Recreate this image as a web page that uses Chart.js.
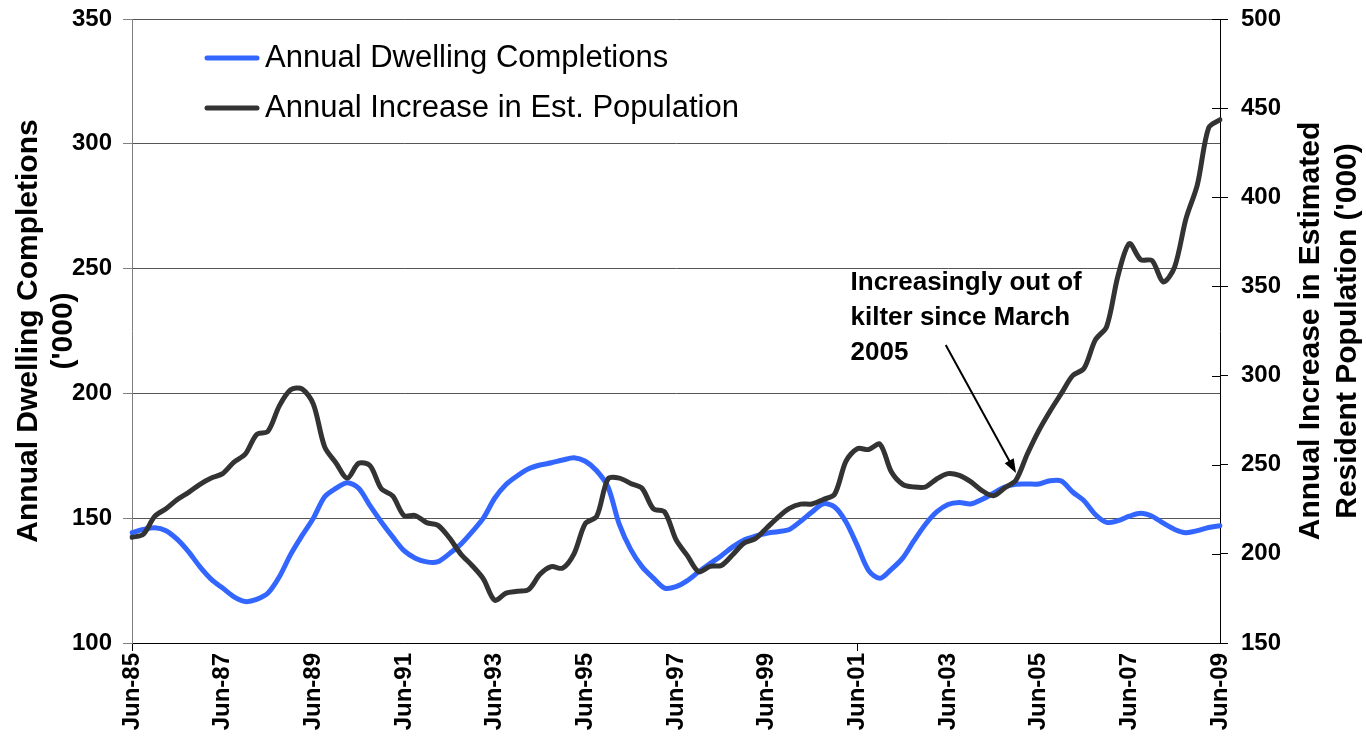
<!DOCTYPE html>
<html>
<head>
<meta charset="utf-8">
<script src="https://cdn.jsdelivr.net/npm/chart.js@4.4.1/dist/chart.umd.min.js"></script>
<style>
  html, body { margin: 0; padding: 0; background: #fff; }
  canvas { display: block; }
</style>
</head>
<body>
<canvas id="chart" width="1366" height="743"></canvas>
<script>
// Quarterly series, Jun-85 .. Jun-09
const quarterNames = ['Jun', 'Sep', 'Dec', 'Mar'];
const firstYear = 1985;
const quarterCount = 97;

// Annual dwelling completions ('000), left axis
const dwellingCompletions = [
  144.2, 145.5, 146.2, 145.0, 141.5, 136.5, 130.5, 125.5,
  122.0, 118.5, 116.6, 117.5, 120.0, 126.5, 135.5, 143.0,
  150.0, 158.6, 162.0, 164.2, 162.0, 155.0, 148.5, 142.5,
  137.0, 134.0, 132.5, 132.6, 135.8, 139.5, 144.5, 150.0,
  158.0, 163.5, 167.0, 169.8, 171.3, 172.2, 173.3, 174.2,
  172.8, 169.0, 162.5, 147.5, 137.5, 130.6, 126.0, 122.0,
  122.6, 125.0, 128.5, 131.8, 135.0, 138.5, 141.3, 142.8,
  144.0, 144.6, 145.5, 148.8, 152.5, 155.8, 154.5, 148.5,
  139.0, 129.0, 125.9, 129.5, 134.0, 141.0, 147.5, 152.5,
  155.5, 156.3, 155.7, 157.5, 160.0, 162.5, 163.6, 163.7,
  163.7, 165.0, 164.9, 160.5, 157.0, 151.5, 148.3, 149.0,
  150.8, 152.0, 150.8, 148.0, 145.5, 144.2, 145.0, 146.3,
  147.0
];

// Annual increase in estimated resident population ('000), right axis
const populationIncrease = [
  209.3, 211.0, 221.0, 225.3, 230.5, 234.5, 239.0, 242.5,
  245.0, 251.5, 256.0, 267.0, 268.8, 283.0, 292.0, 292.5,
  284.0, 260.0, 251.0, 242.5, 250.8, 249.5, 236.5, 232.5,
  221.5, 221.5, 217.5, 216.0, 209.0, 200.0, 193.5, 186.0,
  174.0, 178.0, 179.0, 180.0, 188.5, 192.8, 192.0, 200.0,
  217.0, 221.0, 242.0, 242.5, 239.5, 236.8, 225.3, 223.5,
  208.0, 199.0, 190.0, 193.0, 193.5, 199.5, 206.0, 208.5,
  214.5, 220.5, 225.5, 227.9, 228.0, 230.5, 233.5, 252.0,
  259.0, 258.5, 261.5, 246.0, 239.0, 237.5, 237.5, 242.0,
  245.0, 244.0, 240.5, 235.5, 232.6, 237.0, 241.4, 256.0,
  269.0, 280.0, 290.0, 300.0, 304.0, 320.0, 327.5, 356.0,
  374.0, 365.0, 364.5, 352.5, 361.0, 388.0, 407.0, 439.0,
  443.5
];

const seriesNames = ['Annual Dwelling Completions', 'Annual Increase in Est. Population'];
const seriesColors = ['#3366ff', '#333333'];

const leftTitle = ['Annual Dwelling Completions', "('000)"];
const rightTitle = ['Annual Increase in Estimated', "Resident Population ('000)"];

const noteLines = ['Increasingly out of', 'kilter since March', '2005'];
// note anchor and arrow, in (quarter index, left-axis value)
const noteAt = [63.4, 241.4];
const arrowFrom = [71.8, 219.4];
const arrowTo = [78.0, 168.1];

const labels = [];
for (let i = 0; i < quarterCount; i++) {
    const q = i % 4;
    const year = firstYear + Math.floor(i / 4) + (q === 3 ? 1 : 0);
    labels.push(quarterNames[q] + '-' + String(year).slice(2));
}

const FONT = '"Liberation Sans", Arial, Helvetica, sans-serif';
Chart.defaults.font.family = FONT;
Chart.defaults.color = '#000';

function drawVertical(ctx, lines, xs, cy) {
    lines.forEach((line, i) => {
        ctx.save();
        ctx.translate(xs[i], cy);
        ctx.rotate(-Math.PI / 2);
        ctx.fillText(line, 0, 0);
        ctx.restore();
    });
}

// fixed axis box sizes, so the plot area lands in the same place every time
function fixWidth(w) {
    return s => { s.width = w; s.paddingTop = 0; s.paddingBottom = 0; };
}

const decorations = {
    id: 'decorations',
    afterDraw(chart) {
        const { ctx, chartArea, scales } = chart;
        const x = scales.x, y = scales.y, y1 = scales.y1;
        ctx.save();

        // inner half of the right axis tick marks
        ctx.strokeStyle = '#000';
        ctx.lineWidth = 1;
        y1.ticks.forEach(t => {
            const py = Math.round(y1.getPixelForValue(t.value)) + 0.5;
            ctx.beginPath();
            ctx.moveTo(chartArea.right - 8, py);
            ctx.lineTo(chartArea.right, py);
            ctx.stroke();
        });

        // axis titles
        ctx.fillStyle = '#000';
        ctx.font = 'bold 30px ' + FONT;
        ctx.textAlign = 'center';
        ctx.textBaseline = 'middle';
        const midY = (chartArea.top + chartArea.bottom) / 2;
        drawVertical(ctx, leftTitle, [29, 64], midY);
        drawVertical(ctx, rightTitle, [1311, 1348], midY);

        // legend inside the plot
        ctx.font = '31px ' + FONT;
        ctx.textAlign = 'left';
        seriesNames.forEach((name, i) => {
            const ly = 58 + i * 50;
            ctx.strokeStyle = seriesColors[i];
            ctx.lineWidth = 5;
            ctx.lineCap = 'round';
            ctx.beginPath();
            ctx.moveTo(207, ly);
            ctx.lineTo(257, ly);
            ctx.stroke();
            ctx.fillStyle = '#000';
            ctx.fillText(name, 265, ly);
        });

        // note with arrow
        ctx.font = 'bold 26px ' + FONT;
        ctx.textBaseline = 'alphabetic';
        const nx = x.getPixelForValue(noteAt[0]);
        const ny = y.getPixelForValue(noteAt[1]);
        noteLines.forEach((line, i) => ctx.fillText(line, nx, ny + i * 35));

        const ax0 = x.getPixelForValue(arrowFrom[0]), ay0 = y.getPixelForValue(arrowFrom[1]);
        const ax1 = x.getPixelForValue(arrowTo[0]), ay1 = y.getPixelForValue(arrowTo[1]);
        const ang = Math.atan2(ay1 - ay0, ax1 - ax0);
        const head = 15;
        ctx.strokeStyle = '#000';
        ctx.lineWidth = 2;
        ctx.lineCap = 'butt';
        ctx.beginPath();
        ctx.moveTo(ax0, ay0);
        ctx.lineTo(ax1 - Math.cos(ang) * head * 0.8, ay1 - Math.sin(ang) * head * 0.8);
        ctx.stroke();
        ctx.fillStyle = '#000';
        ctx.beginPath();
        ctx.moveTo(ax1, ay1);
        ctx.lineTo(ax1 - head * Math.cos(ang - 0.35), ay1 - head * Math.sin(ang - 0.35));
        ctx.lineTo(ax1 - head * Math.cos(ang + 0.35), ay1 - head * Math.sin(ang + 0.35));
        ctx.closePath();
        ctx.fill();

        ctx.restore();
    }
};

new Chart(document.getElementById('chart').getContext('2d'), {
    type: 'line',
    data: {
        labels,
        datasets: [{
            label: seriesNames[0],
            data: dwellingCompletions,
            yAxisID: 'y',
            borderColor: seriesColors[0],
            borderWidth: 5,
            order: 1
        }, {
            label: seriesNames[1],
            data: populationIncrease,
            yAxisID: 'y1',
            borderColor: seriesColors[1],
            borderWidth: 5,
            order: 0
        }]
    },
    options: {
        responsive: false,
        animation: false,
        devicePixelRatio: 1,
        layout: { padding: { top: 19, right: 0, bottom: 0, left: 0 } },
        elements: {
            point: { radius: 0 },
            line: { tension: 0.3, borderJoinStyle: 'round', borderCapStyle: 'round' }
        },
        plugins: {
            legend: { display: false },
            tooltip: { enabled: false }
        },
        scales: {
            x: {
                afterFit: s => { s.height = 100; s.paddingLeft = 0; s.paddingRight = 0; },
                grid: {
                    drawOnChartArea: false,
                    tickLength: 8,
                    color: ctx => ctx.index % 8 === 0 ? '#000' : 'rgba(0,0,0,0)',
                    tickColor: ctx => ctx.index % 8 === 0 ? '#000' : 'rgba(0,0,0,0)'
                },
                border: { color: '#000' },
                ticks: {
                    autoSkip: false,
                    minRotation: 90,
                    maxRotation: 90,
                    padding: 2,
                    font: { size: 24, weight: 'bold' },
                    callback: (v, i) => i % 8 === 0 ? labels[i] : null
                }
            },
            y: {
                position: 'left',
                min: 100,
                max: 350,
                afterFit: fixWidth(132),
                grid: { color: '#555', tickColor: '#808080', tickLength: 9 },
                border: { color: '#808080' },
                ticks: { stepSize: 50, padding: 11, font: { size: 24, weight: 'bold' } }
            },
            y1: {
                position: 'right',
                min: 150,
                max: 500,
                afterFit: fixWidth(146),
                grid: { drawOnChartArea: false, tickColor: '#000', tickLength: 8 },
                border: { color: '#000' },
                ticks: { stepSize: 50, padding: 13, font: { size: 24, weight: 'bold' } }
            }
        }
    },
    plugins: [decorations]
});
</script>
</body>
</html>
